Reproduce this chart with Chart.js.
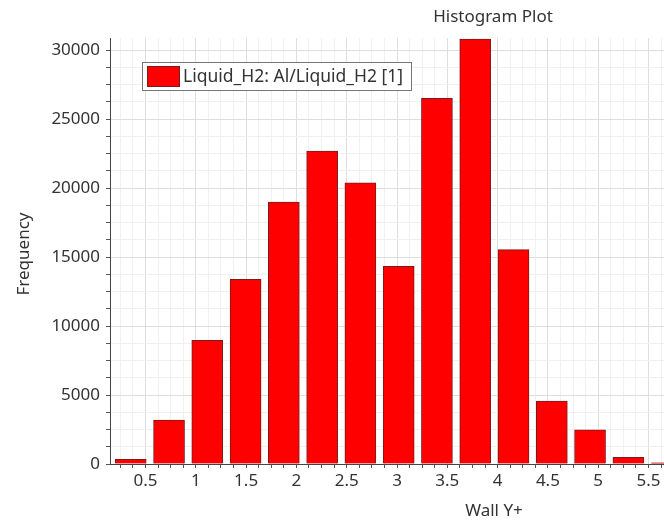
<!DOCTYPE html>
<html>
<head>
<meta charset="utf-8">
<title>Histogram Plot</title>
<script src="https://cdn.jsdelivr.net/npm/chart.js@4.4.1/dist/chart.umd.min.js"></script>
<style>
  html, body { margin: 0; padding: 0; background: #ffffff; overflow: hidden; }
  #wrap { width: 664px; height: 521px; position: relative; overflow: hidden; }
  #c { display: block; }
</style>
</head>
<body>
<div id="wrap"><canvas id="c" width="704" height="521"></canvas></div>
<script>
// Histogram bins of Wall Y+ (bin centres) and their counts
const binCenters = [0.353, 0.734, 1.114, 1.495, 1.875, 2.256, 2.636, 3.017,
                    3.397, 3.778, 4.158, 4.539, 4.919, 5.300, 5.680];
const frequencies = [340, 3180, 8970, 13380, 18980, 22670, 20380, 14320,
                     26500, 30800, 15530, 4560, 2480, 480, 80];
const xTickLabels = ['0.5', '1', '1.5', '2', '2.5', '3', '3.5', '4', '4.5', '5', '5.5'];
const yTickLabels = ['0', '5000', '10000', '15000', '20000', '25000', '30000'];
const seriesLabel = 'Liquid_H2: Al/Liquid_H2 [1]';
const chartTitle = 'Histogram Plot';
const xAxisTitle = 'Wall Y+';
const yAxisTitle = 'Frequency';

const FONT = "'Noto Sans', 'Open Sans', sans-serif";
const TEXT = '#333333';
const BAR_FILL = '#ff0000';
const BAR_EDGE = '#7a1a1a';

const xMajor = xTickLabels.map(Number);
const yMajor = yTickLabels.map(Number);
const isMajor = (v, list) => list.some(m => Math.abs(m - v) < 1e-6);

// Minor subdivisions: four per labelled interval on both axes
function subdivide(major, lo, hi) {
  const step = (major[1] - major[0]) / 4;
  const out = [];
  const start = Math.ceil((lo - major[0]) / step - 1e-9);
  for (let k = start; major[0] + k * step <= hi + 1e-9; k++) {
    out.push({ value: +(major[0] + k * step).toFixed(6) });
  }
  return out;
}

// The canvas is wider than the visible frame, so the plot (and last bin) run off the right edge
const X_MIN = 0.1471, X_MAX = 6.0517;
const Y_MIN = 0, Y_MAX = 30870;

// Titles and boxed legend placed by hand
const decorations = {
  id: 'decorations',
  afterDraw(chart) {
    const ctx = chart.ctx;
    ctx.save();
    ctx.fillStyle = TEXT;
    ctx.textBaseline = 'middle';
    ctx.textAlign = 'center';

    ctx.font = `17px ${FONT}`;
    ctx.fillText(chartTitle, 493, 17);
    ctx.fillText(xAxisTitle, 494, 511);

    ctx.save();
    ctx.translate(24, 254);
    ctx.rotate(-Math.PI / 2);
    ctx.fillText(yAxisTitle, 0, 0);
    ctx.restore();

    // legend
    const ds = chart.data.datasets[0];
    ctx.fillStyle = '#ffffff';
    ctx.fillRect(142.5, 62.5, 269, 28);
    ctx.strokeStyle = '#777777';
    ctx.lineWidth = 1;
    ctx.strokeRect(142.5, 62.5, 269, 28);
    ctx.fillStyle = ds.backgroundColor;
    ctx.fillRect(147.5, 66.5, 32, 20);
    ctx.strokeStyle = ds.borderColor;
    ctx.strokeRect(147.5, 66.5, 32, 20);
    ctx.fillStyle = TEXT;
    ctx.textAlign = 'left';
    ctx.font = `17.5px ${FONT}`;
    ctx.fillText(ds.label, 183, 77);
    ctx.restore();
  }
};

new Chart(document.getElementById('c'), {
  type: 'bar',
  data: {
    datasets: [{
      label: seriesLabel,
      data: binCenters.map((x, i) => ({ x, y: frequencies[i] })),
      backgroundColor: BAR_FILL,
      borderColor: BAR_EDGE,
      borderWidth: 1,
      barThickness: 31
    }]
  },
  options: {
    responsive: false,
    animation: false,
    layout: { padding: { top: 38, right: 0, left: 0, bottom: 0 } },
    plugins: {
      legend: { display: false },
      title: { display: false },
      tooltip: { enabled: false }
    },
    scales: {
      x: {
        type: 'linear',
        offset: false,
        min: X_MIN,
        max: X_MAX,
        afterBuildTicks(scale) { scale.ticks = subdivide(xMajor, X_MIN, X_MAX); },
        afterFit(scale) { scale.height = 57; scale.paddingLeft = 0; scale.paddingRight = 0; },
        ticks: {
          autoSkip: false,
          maxRotation: 0,
          padding: 3,
          color: TEXT,
          font: { family: FONT, size: 17 },
          callback(v) {
            const i = xMajor.findIndex(m => Math.abs(m - v) < 1e-6);
            return i >= 0 ? xTickLabels[i] : '';
          }
        },
        grid: {
          offset: false,
          color: c => (c.tick && isMajor(c.tick.value, xMajor)) ? '#dedede' : '#f0f0f0',
          tickColor: '#555555',
          tickLength: 4,
          lineWidth: 1
        },
        border: { display: true, color: '#444444', width: 1 }
      },
      y: {
        min: Y_MIN,
        max: Y_MAX,
        afterBuildTicks(scale) { scale.ticks = subdivide(yMajor, Y_MIN, Y_MAX); },
        afterFit(scale) { scale.width = 110; scale.paddingTop = 0; scale.paddingBottom = 0; },
        ticks: {
          autoSkip: false,
          padding: 6,
          color: TEXT,
          font: { family: FONT, size: 17 },
          callback(v) {
            const i = yMajor.findIndex(m => Math.abs(m - v) < 1e-6);
            return i >= 0 ? yTickLabels[i] : '';
          }
        },
        grid: {
          color: c => (c.tick && isMajor(c.tick.value, yMajor)) ? '#dedede' : '#f0f0f0',
          tickColor: '#555555',
          tickLength: 4,
          lineWidth: 1
        },
        border: { display: true, color: '#444444', width: 1 }
      }
    }
  },
  plugins: [decorations]
});
</script>
</body>
</html>
